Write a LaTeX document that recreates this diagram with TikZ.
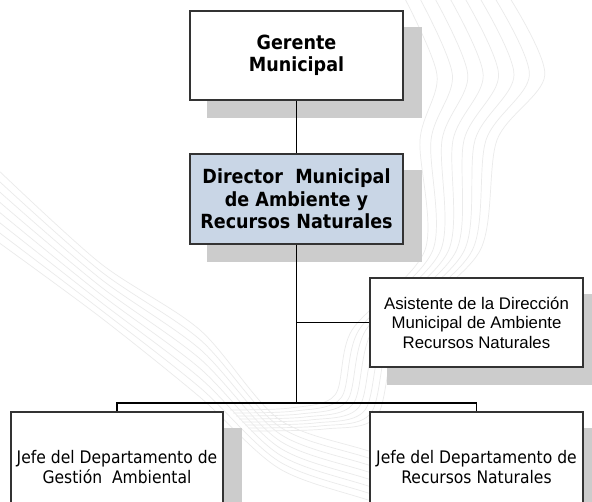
\documentclass[tikz,border=0pt]{standalone}
\usepackage{fontspec}
\setmainfont{Liberation Sans}
\newfontfamily\tahoma{DejaVu Sans Condensed}
\newfontfamily\arialf{Liberation Sans}
\definecolor{shadowgray}{HTML}{CCCCCC}
\definecolor{dirblue}{HTML}{C9D6E6}
\definecolor{boxline}{HTML}{333333}
\definecolor{wmark}{HTML}{EBEBEB}
\tikzset{
  orgbox/.style={draw=boxline, line width=1.2pt, fill=white, minimum width=213pt, inner sep=0pt, align=center},
  headtext/.style={font=\tahoma\bfseries\fontsize{19.5}{22.5}\selectfont},
  asitext/.style={font=\arialf\fontsize{16.8}{19.5}\selectfont},
  jefetext/.style={font=\tahoma\fontsize{17.3}{20}\selectfont},
  conn/.style={line width=1.2pt, black},
  wm/.style={draw=wmark, line width=0.7pt}
}
\begin{document}
\begin{tikzpicture}[x=1pt,y=-1pt]
\useasboundingbox (0,0) rectangle (592,502);
\clip (0,0) rectangle (592,502);
\fill[white] (0,0) rectangle (592,502);
% watermark band (top right)
\foreach \i in {0,...,7}{
  \draw[wm] plot[smooth, tension=0.5] coordinates {
    ({403+15*\i},-5) ({437+15.4*\i},75) ({420+11*\i},140) ({425+7.9*\i},250)
    ({352+6.9*\i},330) ({335+6*\i},{395+3*\i}) ({290+5*\i},{408+3*\i}) ({230+3*\i},{410+3*\i})};
}
% watermark band (left)
\foreach \i in {0,...,7}{
  \draw[wm] plot[smooth, tension=0.5] coordinates {
    (-5,{167+10.4*\i}) (100,{263+7.7*\i}) (200,{330+9.6*\i}) (280,{420+7*\i}) (380,{455+7*\i}) (480,{500+6*\i})};
}
% nodes
\node[orgbox, headtext, minimum height=89pt] (gm) at (296.5,55.5) {Gerente\\Municipal};
\node[orgbox, headtext, fill=dirblue, minimum height=90pt] (dir) at (296.5,199) {Director\ \ Municipal\\de Ambiente y\\Recursos Naturales};
\node[orgbox, asitext, minimum height=89pt] (asi) at (476.5,322.5) {Asistente de la Direcci\'on\\Municipal de Ambiente\\Recursos Naturales};
\node[orgbox, jefetext, minimum width=212pt, minimum height=110pt] (jga) at (117,467) {Jefe del Departamento de\\Gesti\'on\ \ Ambiental};
\node[orgbox, jefetext, minimum height=110pt] (jrn) at (476.5,467) {Jefe del Departamento de\\Recursos Naturales};
% shadows
\foreach \n in {gm,dir,asi,jga,jrn}{
  \fill[shadowgray] ([shift={(18,17)}]\n.north west) rectangle ([shift={(18,17)}]\n.south east);
}
% redraw nodes above shadows
\node[orgbox, headtext, minimum height=89pt] at (296.5,55.5) {Gerente\\Municipal};
\node[orgbox, headtext, fill=dirblue, minimum height=90pt] at (296.5,199) {Director\ \ Municipal\\de Ambiente y\\Recursos Naturales};
\node[orgbox, asitext, minimum height=89pt] at (476.5,322.5) {Asistente de la Direcci\'on\\Municipal de Ambiente\\Recursos Naturales};
\node[orgbox, jefetext, minimum width=212pt, minimum height=110pt] at (117,467) {Jefe del Departamento de\\Gesti\'on\ \ Ambiental};
\node[orgbox, jefetext, minimum height=110pt] at (476.5,467) {Jefe del Departamento de\\Recursos Naturales};
% connectors
\coordinate (j) at (296.5,403);
\draw[conn] (gm.south) -- (dir.north);
\draw[conn] (dir.south) -- (j);
\draw[conn] (dir.south |- asi.west) -- (asi.west);
\draw[conn] (jga.north) |- (j) -| (jrn.north);
\end{tikzpicture}
\end{document}
